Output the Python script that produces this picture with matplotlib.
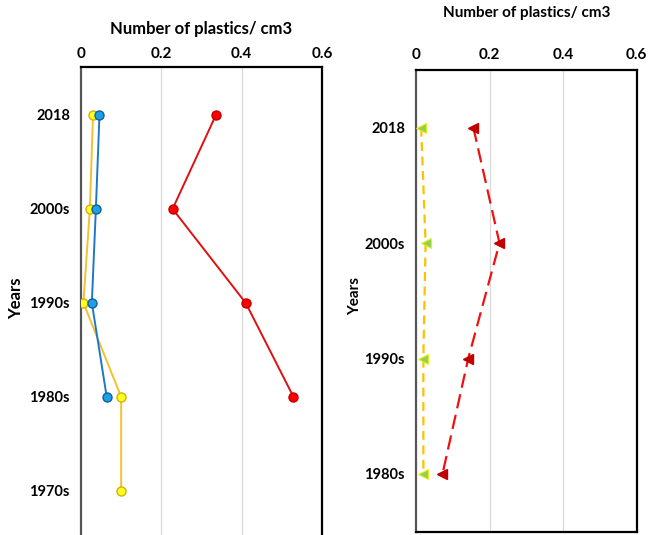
import matplotlib
matplotlib.use("Agg")
import matplotlib.pyplot as plt

plt.rcParams["font.family"] = ["Lato", "DejaVu Sans"]
plt.rcParams["font.weight"] = "bold"

# left panel: five decades, 2018 at the top
left_years = ["2018", "2000s", "1990s", "1980s", "1970s"]
red_left = [0.336, 0.228, 0.41, 0.529]
blue_left = [0.046, 0.037, 0.027, 0.064]
yellow_left = [0.030, 0.022, 0.006, 0.10, 0.10]

# right panel: four decades
right_years = ["2018", "2000s", "1990s", "1980s"]
darkred_right = [0.156, 0.227, 0.142, 0.072]
green_right = [0.014, 0.026, 0.020, 0.020]

x_ticks = [0, 0.2, 0.4, 0.6]
x_labels = ["0", "0.2", "0.4", "0.6"]
title = "Number of plastics/ cm3"

fig = plt.figure(figsize=(6.49, 5.35), dpi=100)

W, H = 649.0, 535.0
ax1 = fig.add_axes([81 / W, 0 / H, 241 / W, 468 / H])
ax2 = fig.add_axes([416 / W, 3.3 / H, 220.7 / W, 461.7 / H])


def style_axis(ax, cats, ylim):
    ax.set_xlim(0, 0.6)
    ax.set_ylim(*ylim)
    ax.xaxis.tick_top()
    ax.set_xticks(x_ticks)
    ax.set_xticklabels(x_labels, fontsize=11, fontweight="bold")
    ax.set_yticks(range(len(cats)))
    ax.set_yticklabels(cats, fontsize=10.5, fontweight="bold")
    ax.tick_params(length=0, pad=8)
    for v in (0.2, 0.4):
        ax.axvline(v, color="#d9d9d9", lw=0.9, zorder=0)
    for s in ax.spines.values():
        s.set_color("black")
        s.set_linewidth(1.6)
    ax.spines["left"].set_color("#555555")


style_axis(ax1, left_years, (4.47, -0.51))
ax1.spines["bottom"].set_visible(False)
ax1.tick_params(axis="x", pad=4)

ax1.plot(red_left, range(len(red_left)), color="#E01010", lw=1.4,
         marker="o", ms=6.5, mfc="#FF0000", mec="#C00000", zorder=3)
ax1.plot(yellow_left, range(len(yellow_left)), color="#F2C12E", lw=1.4,
         marker="o", ms=6.5, mfc="#FFFF20", mec="#D8B000", zorder=3)
ax1.plot(blue_left, range(len(blue_left)), color="#1F77C8", lw=1.4,
         marker="o", ms=6.5, mfc="#1EA0E6", mec="#1060A0", zorder=4)

ax1.set_title(title, fontsize=12, fontweight="bold", pad=24)
ax1.set_ylabel("Years", fontsize=12, fontweight="bold")
ax1.yaxis.set_label_coords(-0.237, 0.505)

style_axis(ax2, right_years, (3.5, -0.5))
ax2.tick_params(axis="x", pad=6)

ax2.plot(green_right, range(len(green_right)), color="#FFC000", lw=1.6,
         dashes=(4, 2.5), marker="<", ms=7.5, mfc="#92D050", mec="#E8F020",
         mew=0.8, zorder=3)
ax2.plot(darkred_right, range(len(darkred_right)), color="#F01010", lw=1.6,
         dashes=(6.5, 3), marker="<", ms=7.5, mfc="#C00000", mec="#C00000",
         zorder=3)

ax2.set_title(title, fontsize=11, fontweight="bold", pad=38)
ax2.set_ylabel("Years", fontsize=11, fontweight="bold")
ax2.yaxis.set_label_coords(-0.245, 0.51)

fig.savefig("out.png", dpi=100)
